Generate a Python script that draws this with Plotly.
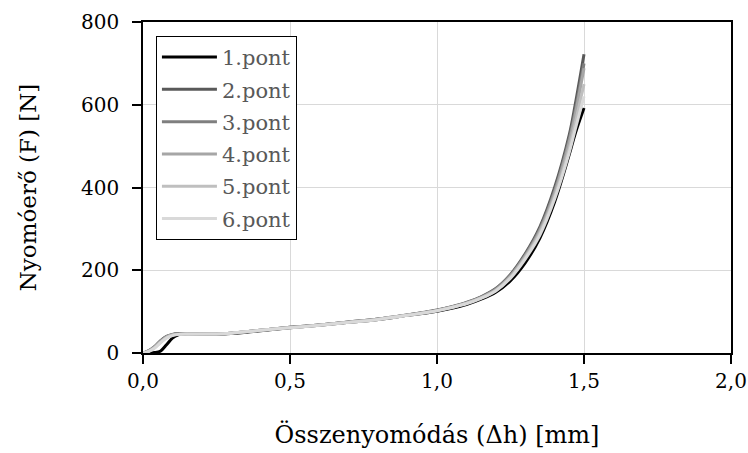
import plotly.graph_objects as go

# Shared deformation values (mm)
x_vals = [0.0, 0.02, 0.04, 0.06, 0.08, 0.10, 0.12, 0.15, 0.20, 0.25, 0.30, 0.40, 0.50,
          0.60, 0.70, 0.80, 0.90, 1.00, 1.05, 1.10, 1.15, 1.20, 1.25, 1.30, 1.35, 1.40,
          1.45, 1.47, 1.50]

names = ["1.pont", "2.pont", "3.pont", "4.pont", "5.pont", "6.pont"]
colors = ["#000000", "#595959", "#7f7f7f", "#a6a6a6", "#bfbfbf", "#d9d9d9"]

f1 = [0, 0, 1, 5, 20, 36, 44, 47, 46, 45, 47, 54, 61, 67, 74, 81, 91, 101, 108, 117, 130, 147, 175, 218, 278, 365, 480, 530, 592]
f2 = [0, 6, 16, 30, 40, 45, 47, 47, 46, 46, 48, 55, 62, 68, 75, 82, 92, 104, 112, 122, 136, 156, 190, 240, 305, 400, 528, 600, 722]
f3 = [0, 5, 15, 29, 39, 44, 46, 46, 46, 46, 48, 55, 62, 68, 75, 82, 92, 103, 111, 121, 135, 155, 188, 237, 300, 392, 518, 585, 700]
f4 = [0, 5, 15, 28, 39, 44, 46, 46, 46, 46, 48, 55, 62, 68, 75, 82, 92, 103, 111, 121, 134, 153, 186, 234, 296, 387, 510, 575, 688]
f5 = [0, 4, 13, 26, 37, 43, 45, 46, 46, 46, 48, 55, 61, 67, 74, 81, 91, 102, 110, 120, 133, 151, 183, 230, 290, 378, 495, 555, 650]
f6 = [0, 4, 12, 25, 36, 42, 45, 46, 46, 46, 48, 55, 61, 67, 74, 81, 91, 102, 110, 119, 132, 150, 181, 227, 285, 372, 485, 540, 620]
series = [f1, f2, f3, f4, f5, f6]

x_ticks = [0.0, 0.5, 1.0, 1.5, 2.0]
x_tick_text = ["0,0", "0,5", "1,0", "1,5", "2,0"]
y_ticks = [0, 200, 400, 600, 800]

FONT = "DejaVu Serif"

fig = go.Figure()
for i, (n, c, ys) in enumerate(zip(names, colors, series)):
    fig.add_trace(go.Scatter(x=x_vals, y=ys, mode="lines", name=n, legendgroup=n,
                             line=dict(color=c, width=3, shape="spline", smoothing=1.0)))

fig.update_layout(
    width=748, height=453,
    margin=dict(l=143, r=17, t=22, b=100),
    paper_bgcolor="white", plot_bgcolor="white",
    font=dict(family=FONT, size=20, color="black"),
    showlegend=True,
    legend=dict(x=0.022, y=0.958, xanchor="left", yanchor="top",
                bordercolor="black", borderwidth=1, bgcolor="white",
                font=dict(family=FONT, size=21, color="#595959"),
                tracegroupgap=2, itemwidth=55),
)
fig.update_xaxes(
    range=[0, 2.0], tickvals=x_ticks, ticktext=x_tick_text,
    showgrid=True, gridcolor="#d9d9d9", gridwidth=1,
    showline=True, linecolor="black", linewidth=1.5, mirror=True,
    ticks="outside", ticklen=9, tickcolor="black", tickwidth=1.5,
    zeroline=False, automargin=False,
    tickfont=dict(family=FONT, size=20, color="black"),
    title=dict(text="Összenyomódás (Δh) [mm]", font=dict(family=FONT, size=24, color="black"), standoff=34),
)
fig.update_yaxes(
    range=[0, 800], tickvals=y_ticks,
    showgrid=True, gridcolor="#d9d9d9", gridwidth=1,
    showline=True, linecolor="black", linewidth=1.5, mirror=True,
    ticks="outside", ticklen=9, tickcolor="black", tickwidth=1.5,
    zeroline=False, ticklabelstandoff=9, automargin=False,
    tickfont=dict(family=FONT, size=20, color="black"),
    title=dict(text="Nyomóerő (F) [N]", font=dict(family=FONT, size=23, color="black"), standoff=38),
)

fig.write_html("out.html")
